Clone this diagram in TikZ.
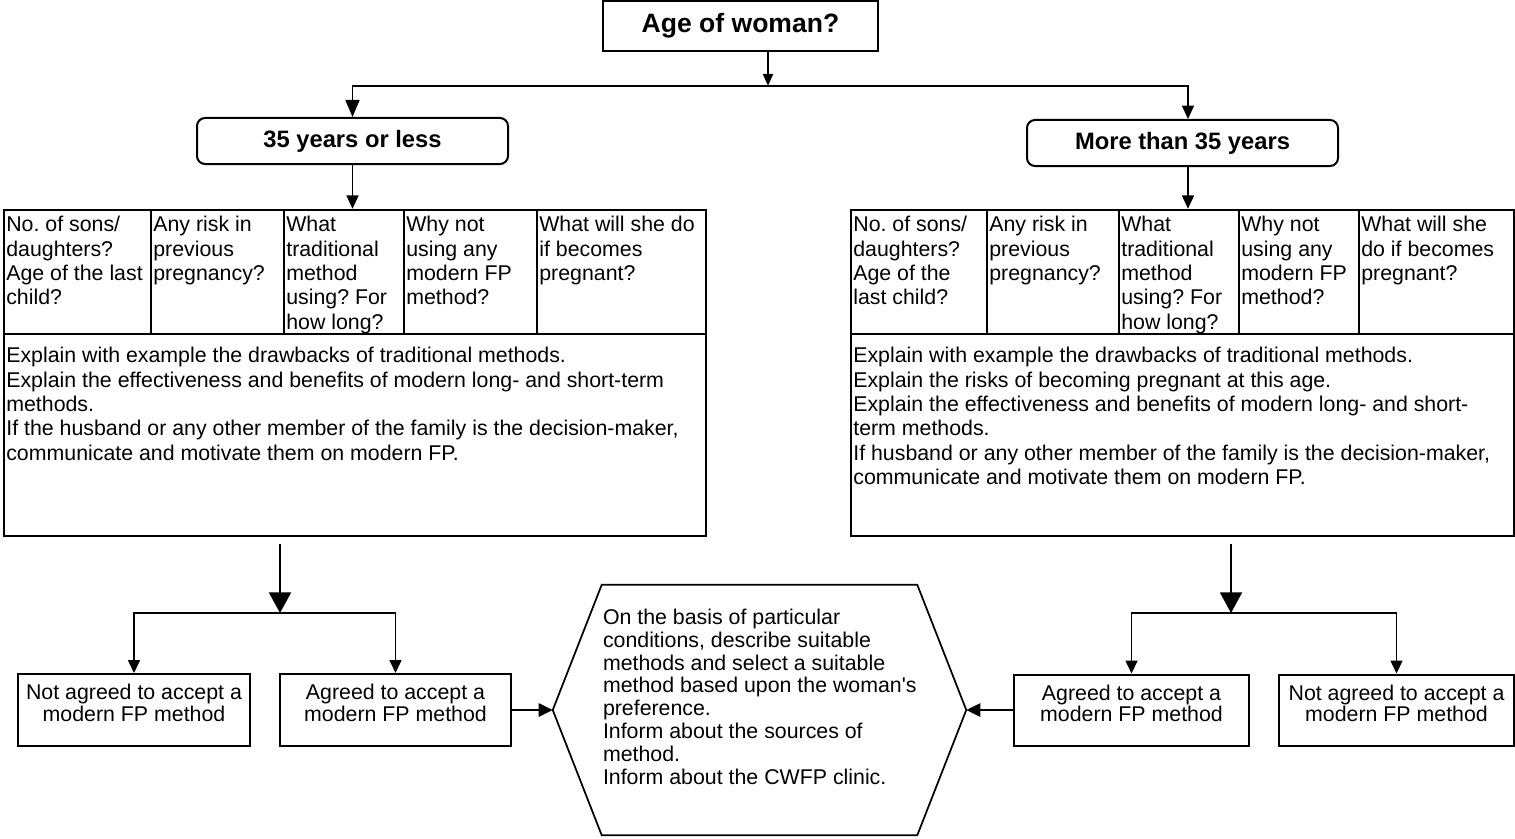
\documentclass[tikz,border=0pt]{standalone}
\usepackage{fontspec}
\setmainfont{Liberation Sans}[Ligatures=TeXOff]
\usetikzlibrary{arrows.meta,calc}

\begin{document}
\frenchspacing
\begin{tikzpicture}[
  x=0.75pt,y=-0.75pt,
  font=\fontsize{16}{18.3}\selectfont,
  box/.style={draw,line width=1.5pt,inner sep=0pt},
  head/.style={box,rounded corners=6pt,font=\fontsize{17.8}{20}\selectfont\bfseries,minimum width=233.25pt,minimum height=34.5pt},
  cell/.style={draw,line width=1.9pt,inner sep=0pt,minimum height=93pt},
  celltxt/.style={anchor=north west,align=left,inner xsep=2.5pt,inner ysep=5.5pt},
  boxtxt/.style={anchor=north,align=center,inner sep=0pt,font=\fontsize{16}{16}\selectfont},
  ln/.style={line width=1.2pt},
  arrsm/.style={ln,-{Triangle[length=9pt,width=7.5pt]}},
  arrmid/.style={ln,-{Triangle[length=10pt,width=9pt]}},
  arrbig/.style={ln,-{Triangle[length=12.75pt,width=10.5pt]}},
  arrlow/.style={line width=1.5pt,-{Triangle[length=15.5pt,width=16.5pt]}},
  arrbox/.style={ln,-{Triangle[length=9.75pt,width=9pt]}},
  arrhex/.style={ln,-{Triangle[length=10.5pt,width=10pt]}}
]
\useasboundingbox (0,0) rectangle (1515,838);
\node[box,font=\fontsize{19.9}{22}\selectfont\bfseries,minimum width=206.25pt,minimum height=37.5pt] (age) at (740.5,26) {Age of woman?};
\coordinate (split) at (768,86);
\node[head] (young) at (352.5,141) {35 years or less};
\node[head] (old) at (1182.5,143) {More than 35 years};
\draw[arrsm] (age.south -| split) -- (split);
\draw[arrbig] (split) -| (young.north);
\draw[arrmid] (split) -| ([xshift=4.1pt]old.north);

\node[cell,minimum width=110.25pt] (l1) at (77.5,272) {};
\node[cell,minimum width=99.75pt] (l2) at (217.5,272) {};
\node[cell,minimum width=90pt] (l3) at (344,272) {};
\node[cell,minimum width=99.75pt] (l4) at (470.5,272) {};
\node[cell,minimum width=126.75pt] (l5) at (621.5,272) {};
\node[cell,minimum width=526.5pt,minimum height=151.5pt] (lbody) at (355,435) {};
\node[celltxt] (l1t) at (l1.north west) {No. of sons/\\daughters?\\Age of the last\\child?};
\node[celltxt] (l2t) at (l2.north west) {Any risk in\\previous\\pregnancy?};
\node[celltxt] (l3t) at (l3.north west) {What\\traditional\\method\\using? For\\how long?};
\node[celltxt] (l4t) at (l4.north west) {Why not\\using any\\modern FP\\method?};
\node[celltxt] (l5t) at (l5.north west) {What will she do\\if becomes\\pregnant?};
\node[celltxt,yshift=-5.25pt] (lbodyt) at (lbody.north west) {Explain with example the drawbacks of traditional methods.\\
  Explain the effectiveness and benefits of modern long- and short-term\\methods.\\
  If the husband or any other member of the family is the decision-maker,\\
  communicate and motivate them on modern FP.};
\draw[arrmid] (young.south) -- (young.south |- l3.north);

\node[cell,minimum width=102pt] (r1) at (919,272) {};
\node[cell,minimum width=99pt] (r2) at (1053,272) {};
\node[cell,minimum width=90pt] (r3) at (1179,272) {};
\node[cell,minimum width=90pt] (r4) at (1299,272) {};
\node[cell,minimum width=116.25pt] (r5) at (1436.5,272) {};
\node[cell,minimum width=497.25pt,minimum height=151.5pt] (rbody) at (1182.5,435) {};
\node[celltxt] (r1t) at (r1.north west) {No. of sons/\\daughters?\\Age of the\\last child?};
\node[celltxt] (r2t) at (r2.north west) {Any risk in\\previous\\pregnancy?};
\node[celltxt] (r3t) at (r3.north west) {What\\traditional\\method\\using? For\\how long?};
\node[celltxt] (r4t) at (r4.north west) {Why not\\using any\\modern FP\\method?};
\node[celltxt] (r5t) at (r5.north west) {What will she\\do if becomes\\pregnant?};
\node[celltxt,yshift=-5.25pt] (rbodyt) at (rbody.north west) {Explain with example the drawbacks of traditional methods.\\
  Explain the risks of becoming pregnant at this age.\\
  Explain the effectiveness and benefits of modern long- and short-\\term methods.\\
  If husband or any other member of the family is the decision-maker,\\
  communicate and motivate them on modern FP.};
\coordinate (oldout) at ([xshift=4.1pt]old.south);
\draw[arrmid] (oldout) -- (oldout |- r3.north);

\node[box,minimum width=174pt,minimum height=54pt] (lno) at (134,710) {};
\node[box,minimum width=173.25pt,minimum height=54pt] (lyes) at (395.5,710) {};
\node[box,minimum width=176.25pt,minimum height=53.25pt] (ryes) at (1131.5,710) {};
\node[box,minimum width=176.25pt,minimum height=53.25pt] (rno) at (1396.5,710) {};
\node[boxtxt] (lnot) at ([yshift=-8.25pt]lno.north) {Not agreed to accept a\\modern FP method};
\node[boxtxt] (lyest) at ([yshift=-8.25pt]lyes.north) {Agreed to accept a\\modern FP method};
\node[boxtxt] (ryest) at ([yshift=-8.25pt]ryes.north) {Agreed to accept a\\modern FP method};
\node[boxtxt] (rnot) at ([yshift=-8.25pt]rno.north) {Not agreed to accept a\\modern FP method};

\coordinate (lsplit) at (280,613);
\coordinate (rsplit) at (1231,613);
\draw[arrlow,shorten <=5pt] (lsplit |- lbody.south) -- (lsplit);
\draw[arrlow,shorten <=5pt] (rsplit |- rbody.south) -- (rsplit);
\draw[arrbox] (lsplit) -| (lno.north);
\draw[arrbox] (lsplit) -| (lyes.north);
\draw[arrbox] (rsplit) -| (ryes.north);
\draw[arrbox] (rsplit) -| (rno.north);

\node[minimum width=309.75pt,minimum height=187.5pt,inner sep=0pt] (hex) at (759.5,710) {};
\draw[line width=1.3pt] (hex.west) -- ([xshift=36.75pt]hex.north west) -- ([xshift=-36.75pt]hex.north east)
  -- (hex.east) -- ([xshift=-36.75pt]hex.south east) -- ([xshift=36.75pt]hex.south west) -- cycle;
\node[anchor=north west,align=left,inner sep=0pt,font=\fontsize{16}{17.1}\selectfont] (hext)
  at ([xshift=37.5pt,yshift=-18pt]hex.north west)
  {On the basis of particular\\conditions, describe suitable\\methods and select a suitable\\method based upon the woman's\\preference.\\Inform about the sources of\\method.\\Inform about the CWFP clinic.};
\draw[arrhex] (lyes.east) -- (hex.west);
\draw[arrhex] (ryes.west) -- (hex.east);
\end{tikzpicture}
\end{document}
